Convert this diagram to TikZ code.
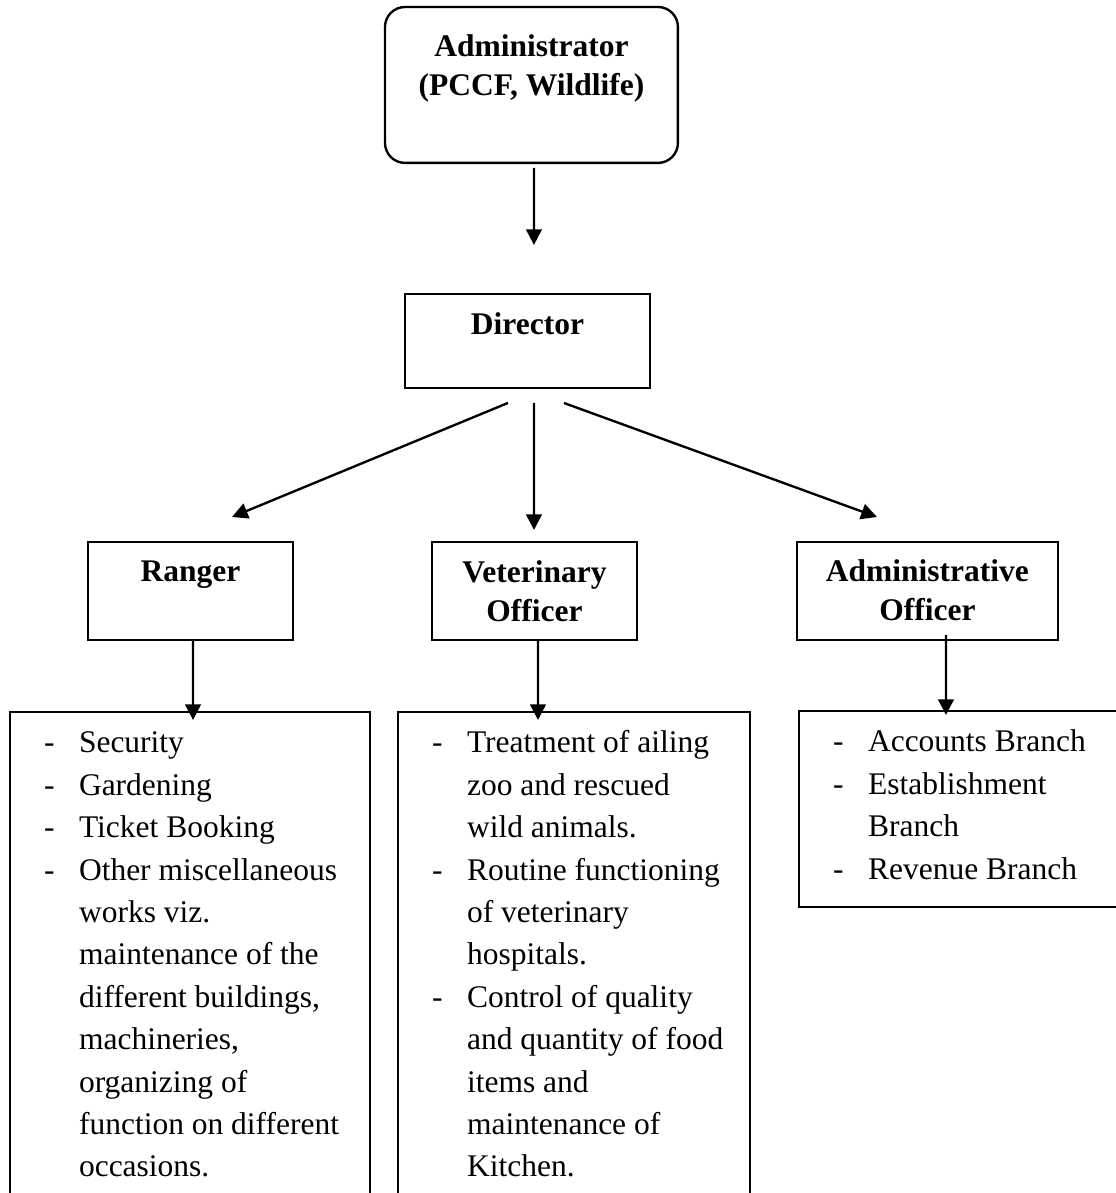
\documentclass[tikz,border=0pt]{standalone}
\usepackage{fontspec}
\setmainfont{Liberation Serif}
\usetikzlibrary{arrows.meta,calc}

\newcommand{\dashitem}{\hspace*{13pt}\makebox[13.3pt][l]{-}}
\newcommand{\contline}{\hspace*{26.3pt}}

\begin{document}
\begin{tikzpicture}
[x=0.381pt, y=-0.381pt, line width=0.9pt, >={Triangle[length=6pt,width=6pt]},
head/.style={rectangle, draw, inner sep=0pt, outer sep=0pt, anchor=north west, font=\fontsize{12}{14.8}\selectfont\bfseries},
list/.style={rectangle, draw, inner sep=0pt, outer sep=0pt, anchor=north west, font=\fontsize{12}{16.15}\selectfont}]

\useasboundingbox (0,0) rectangle (1116,1193);
\clip (0,0) rectangle (1116,1193);

% top of the chart
\node[head, rounded corners=7.6pt] (admin) at (385,7) {\parbox[c][59.4pt][t]{111.6pt}{\centering\rule{0pt}{19pt}Administrator\\(PCCF, Wildlife)}};
\node[head] (dir) at (405,294) {\parbox[c][35.8pt][t]{93.3pt}{\centering\rule{0pt}{15.6pt}Director}};

% officers
\node[head] (ranger) at (88,542) {\parbox[c][37.3pt][t]{78.1pt}{\centering\rule{0pt}{15.2pt}Ranger}};
\node[head] (vet) at (432,542) {\parbox[c][37.3pt][t]{78.1pt}{\centering\rule{0pt}{15.4pt}Veterinary\\Officer}};
\node[head] (adm) at (797,542) {\parbox[c][37.3pt][t]{99.4pt}{\centering\rule{0pt}{15.2pt}Administrative\\Officer}};

% duties
\node[list] (rlist) at (10,712) {\parbox[c][197pt][t]{137.2pt}{\rule{0pt}{15.6pt}\dashitem Security\\
\dashitem Gardening\\
\dashitem Ticket Booking\\
\dashitem Other miscellaneous\\
\contline works viz.\\
\contline maintenance of the\\
\contline different buildings,\\
\contline machineries,\\
\contline organizing of\\
\contline function on different\\
\contline occasions.}};

\node[list] (vlist) at (398,712) {\parbox[c][197pt][t]{134.1pt}{\rule{0pt}{15.6pt}\dashitem Treatment of ailing\\
\contline zoo and rescued\\
\contline wild animals.\\
\dashitem Routine functioning\\
\contline of veterinary\\
\contline hospitals.\\
\dashitem Control of quality\\
\contline and quantity of food\\
\contline items and\\
\contline maintenance of\\
\contline Kitchen.}};

\node[list] (alist) at (799,711) {\parbox[c][74.7pt][t]{124.2pt}{\rule{0pt}{15.6pt}\dashitem Accounts Branch\\
\dashitem Establishment\\
\contline Branch\\
\dashitem Revenue Branch}};

% arrows
\draw[->] ($(admin.south)+(2.5,5)$) -- ($(dir.north)+(6.5,-49)$);
\draw[->] ($(dir.south)+(-19.5,15)$) -- ($(ranger.north)+(41.5,-25)$);
\draw[->] ($(dir.south)+(6.5,15)$) -- ($(vet.north)+(-0.5,-12)$);
\draw[->] ($(dir.south)+(36.5,15)$) -- ($(adm.north)+(-50.5,-25)$);
\draw[->] ($(ranger.south)+(2.5,0)$) -- ($(rlist.north)+(3,8)$);
\draw[->] ($(vet.south)+(3.5,0)$) -- ($(vlist.north west)+(140,8)$);
\draw[->] ($(adm.south)+(18.5,-5)$) -- ($(alist.north west)+(147,4)$);
\end{tikzpicture}
\end{document}
